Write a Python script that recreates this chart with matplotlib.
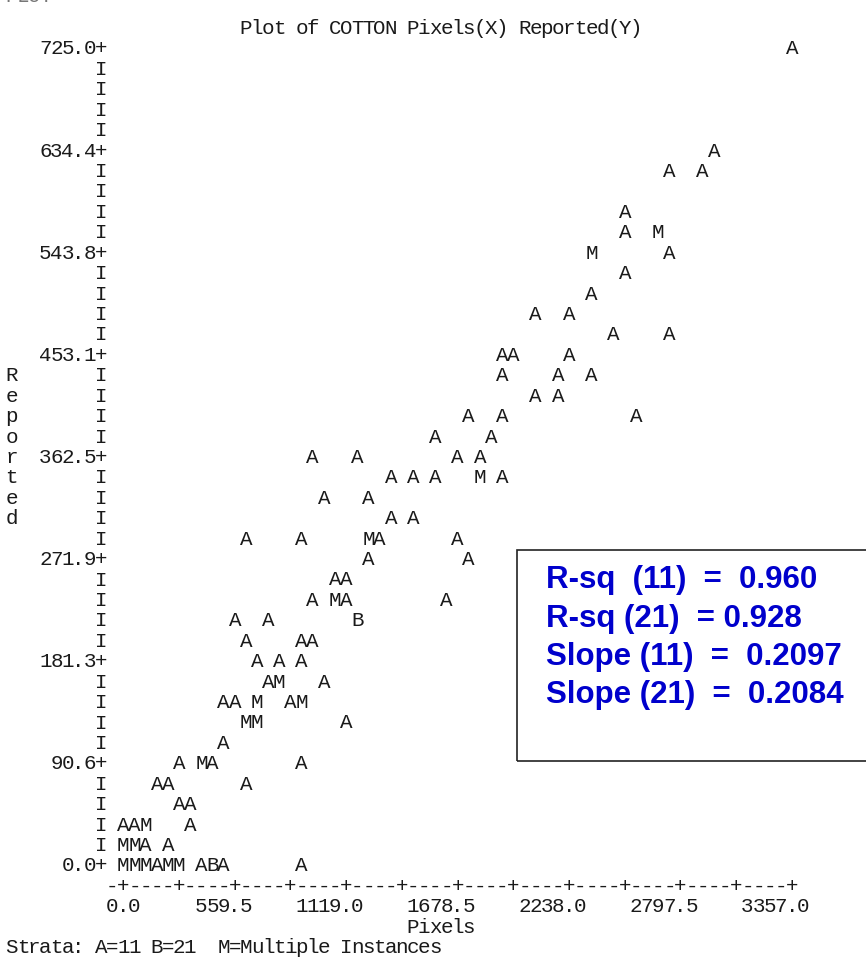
import matplotlib.pyplot as plt
from matplotlib.patches import Rectangle

pixels = [3357,
          2965,
          2741, 2909,
          2518,
          2518, 2686,
          2350, 2741,
          2518,
          2350,
          2070, 2238,
          2462, 2741,
          1902, 1958, 2238,
          1902, 2182, 2350,
          2070, 2182,
          1734, 1902, 2574,
          1567, 1846,
          951, 1175, 1679, 1790,
          1343, 1455, 1567, 1790, 1902,
          1007, 1231,
          1343, 1455,
          615, 895, 1231, 1287, 1679,
          1231, 1734,
          1063, 1119,
          951, 1063, 1119, 1623,
          560, 727, 1175,
          615, 895, 951,
          671, 783, 895,
          727, 783, 1007,
          504, 560, 671, 839, 895,
          615, 671, 1119,
          504,
          280, 392, 448, 895,
          168, 224, 615,
          280, 336,
          0, 56, 112, 336,
          0, 56, 112, 224,
          0, 56, 112, 168, 224, 280, 392, 448, 504, 895]
reported = [725.0,
            634.4,
            616.3, 616.3,
            580.0,
            561.9, 561.9,
            543.8, 543.8,
            525.6,
            507.5,
            489.4, 489.4,
            471.3, 471.3,
            453.1, 453.1, 453.1,
            435.0, 435.0, 435.0,
            416.9, 416.9,
            398.8, 398.8, 398.8,
            380.6, 380.6,
            362.5, 362.5, 362.5, 362.5,
            344.4, 344.4, 344.4, 344.4, 344.4,
            326.3, 326.3,
            308.1, 308.1,
            290.0, 290.0, 290.0, 290.0, 290.0,
            271.9, 271.9,
            253.8, 253.8,
            235.6, 235.6, 235.6, 235.6,
            217.5, 217.5, 217.5,
            199.4, 199.4, 199.4,
            181.3, 181.3, 181.3,
            163.1, 163.1, 163.1,
            145.0, 145.0, 145.0, 145.0, 145.0,
            126.9, 126.9, 126.9,
            108.8,
            90.6, 90.6, 90.6, 90.6,
            72.5, 72.5, 72.5,
            54.4, 54.4,
            36.3, 36.3, 36.3, 36.3,
            18.1, 18.1, 18.1, 18.1,
            0, 0, 0, 0, 0, 0, 0, 0, 0, 0]
strata = list("A" "A" "AA" "A" "AM" "MA" "A" "A" "AA" "AA" "AAA" "AAA" "AA"
              "AAA" "AA" "AAAA" "AAAMA" "AA" "AA" "AAMAA" "AA" "AA" "AMAA"
              "AAB" "AAA" "AAA" "AMA" "AAMAM" "MMA" "A" "AMAA" "AAA" "AA"
              "AAMA" "MMAA" "MMMAMMABAA")

y_ticks = [0.0, 90.6, 181.3, 271.9, 362.5, 453.1, 543.8, 634.4, 725.0]
x_ticks = [0.0, 559.5, 1119.0, 1678.5, 2238.0, 2797.5, 3357.0]
stats = ["R-sq  (11)  =  0.960", "R-sq (21)  = 0.928",
         "Slope (11)  =  0.2097", "Slope (21)  =  0.2084"]

COL = 3357.0 / 60   # data units per printer column
ROW = 725.0 / 40    # data units per printer line
MONO = dict(family="Liberation Mono", size=15, color="#1a1a1a",
            ha="center", va="center_baseline")

fig = plt.figure(figsize=(8.66, 9.61), dpi=100)
ax = fig.add_axes([0, 0, 1, 1])
ax.set_xlim(-619.0, 3728.6)
ax.set_ylim(-86.1, 766.7)
ax.axis("off")


def put(col, row, s, **kw):
    style = {**MONO, **kw}
    for i, ch in enumerate(s):
        if ch != " ":
            ax.text((col + i) * COL, row * ROW, ch, **style)


# the observations
for x, y, s in zip(pixels, reported, strata):
    ax.text(x, y, s, **MONO)

# vertical axis
for r in range(41):
    put(-2, r, "+" if r % 5 == 0 else "I")
for v in y_ticks:
    lab = f"{v:.1f}"
    for i, ch in enumerate(lab):
        ax.text((-2 - len(lab) + i) * COL, v, ch, **MONO)

# horizontal axis
put(-1, -1, "-" + "".join("+" if c % 5 == 0 else "-" for c in range(61)))
for v in x_ticks:
    lab = f"{v:.1f}"
    dot = lab.index(".")
    for i, ch in enumerate(lab):
        ax.text(v + (i - dot) * COL, -2 * ROW, ch, **MONO)

put(26, -3, "Pixels")
for i, ch in enumerate("Reported"):
    put(-10, 24 - i, ch)
put(11, 41, "Plot of COTTON Pixels(X) Reported(Y)")
put(-10, -4, "Strata: A=11 B=21  M=Multiple Instances")
# previous output line, mostly scrolled off the top of the screenshot
put(-10, 42.55, "PLOT", color="#777777")

# annotation box with the fit statistics
ax.add_patch(Rectangle((0.597, 0.208), 0.41, 0.22, transform=fig.transFigure,
                       fill=False, edgecolor="#222222", linewidth=1.2,
                       clip_on=False))
for i, line in enumerate(stats):
    fig.text(0.631, 1 - (580 + 38.5 * i) / 961, line, color="#0000CC",
             family="Liberation Sans", weight="bold", size=22.5,
             ha="left", va="center")

fig.savefig("out.png", dpi=100)
